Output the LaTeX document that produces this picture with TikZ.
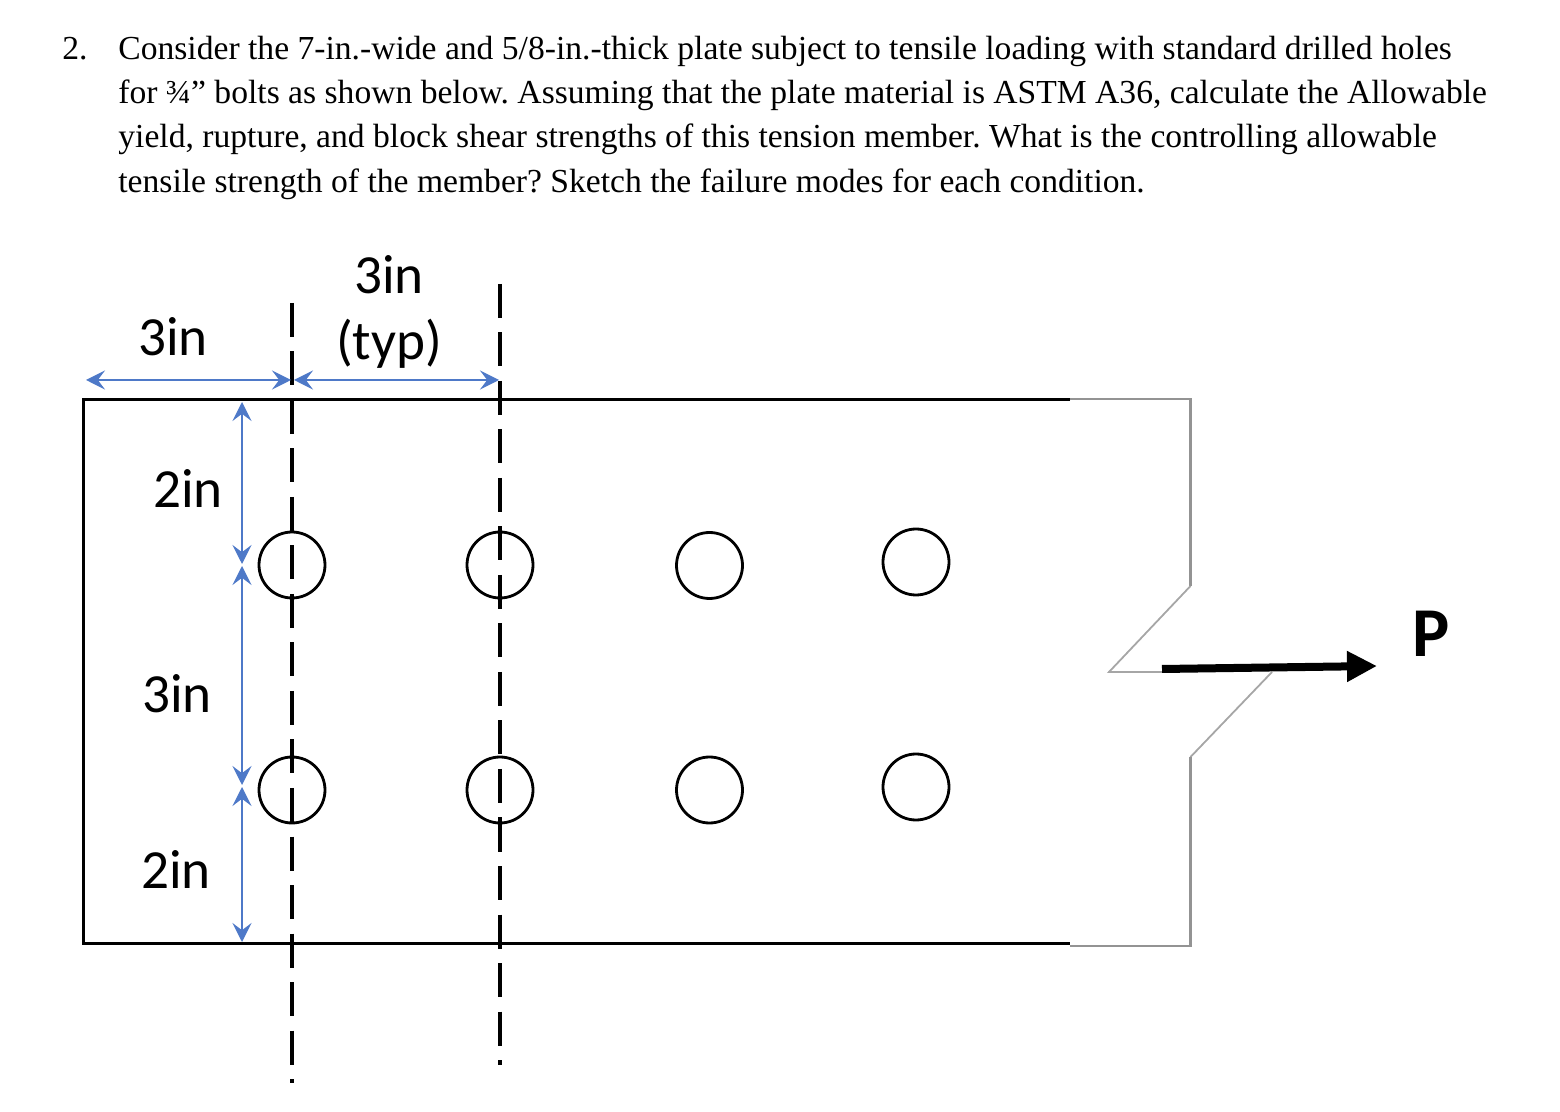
\documentclass[tikz,border=0pt]{standalone}
\usepackage{fontspec}
\setmainfont{Liberation Serif}
\newfontfamily\labelfont{Carlito}
\usepackage{xcolor}
\usetikzlibrary{arrows.meta}
\definecolor{dimblue}{HTML}{4E79C8}
\frenchspacing
\tikzset{
    probtext/.style={anchor=base west, inner sep=0pt, font=\fontsize{16.8}{20}\selectfont},
    dimtext/.style={inner sep=0pt, font=\labelfont\fontsize{27.6}{32}\selectfont},
    dimline/.style={dimblue, line width=0.7pt, {Stealth[length=9.5pt,width=9.5pt,inset=3.6pt]}-{Stealth[length=9.5pt,width=9.5pt,inset=3.6pt]}},
    hole/.style={circle, draw, line width=1.4pt, minimum size=33pt, inner sep=0pt},
    centerline/.style={line width=1.9pt, dash pattern=on 17pt off 7.25pt},
    plateedge/.style={line width=1.5pt},
    breakedge/.style={gray!85, line width=1.3pt},
    slantedge/.style={gray!70, line width=0.9pt}
}
\begin{document}
\begin{tikzpicture}[x=0.5pt,y=-0.5pt]
    \useasboundingbox (0,0) rectangle (1560,1112);
    % problem text
    \node[probtext] (num) at (62,59.5) {2.};
    \node[probtext] (line1) at (118,59.5) {Consider the 7-in.-wide and 5/8-in.-thick plate subject to tensile loading with standard drilled holes};
    \node[probtext] (line2) at (118,103.5) {for ¾” bolts as shown below. Assuming that the plate material is ASTM A36, calculate the Allowable};
    \node[probtext] (line3) at (118,147.5) {yield, rupture, and block shear strengths of this tension member. What is the controlling allowable};
    \node[probtext] (line4) at (118,192.5) {tensile strength of the member? Sketch the failure modes for each condition.};
    % plate
    \coordinate (tl) at (83,399.5);
    \coordinate (bl) at (83,943);
    \coordinate (tr) at (1070,399.5);
    \coordinate (br) at (1070,943);
    \draw[plateedge] (tr) -- (tl) -- (bl) -- (br);
    \coordinate (grs) at (1070,399);
    \coordinate (grt) at (1190.5,399);
    \coordinate (grb) at (1190.5,946);
    \coordinate (nA) at (1190.5,586);
    \coordinate (nB) at (1109,672);
    \coordinate (nC) at (1165,672);
    \coordinate (nD) at (1272,672);
    \coordinate (nE) at (1190.5,757);
    \coordinate (brg) at (1070,946);
    \draw[breakedge] (grs) -- (grt) -- (nA);
    \draw[slantedge] (nA) -- (nB) -- (nC);
    \draw[slantedge] (nD) -- (nE);
    \draw[breakedge] (nE) -- (grb) -- (brg);
    % holes
    \foreach \name/\px/\py in {a/292/565, b/500/565, c/709.5/565.5, d/916/562, e/292/790, f/500/790, g/709.5/790, h/916/787}
        \node[hole] (hole\name) at (\px,\py) {};
    % center lines
    \coordinate (cA) at (292,303);
    \coordinate (cB) at (292,1083);
    \coordinate (cC) at (500,284);
    \coordinate (cD) at (500,1065);
    \draw[centerline] (cA) -- (cB);
    \draw[centerline] (cC) -- (cD);
    % dimensions
    \coordinate (dA) at (86,380);
    \coordinate (dB) at (291,380);
    \coordinate (dC) at (294,380);
    \coordinate (dD) at (499,380);
    \coordinate (dE) at (242,402);
    \coordinate (dF) at (242,564);
    \coordinate (dG) at (242,566);
    \coordinate (dH) at (242,785);
    \coordinate (dI) at (242,787);
    \coordinate (dJ) at (242,942);
    \draw[dimline] (dA) -- (dB);
    \draw[dimline] (dC) -- (dD);
    \draw[dimline] (dE) -- (dF);
    \draw[dimline] (dG) -- (dH);
    \draw[dimline] (dI) -- (dJ);
    \node[dimtext] (w1) at (173,337) {3in};
    \node[dimtext] (w2) at (389,275) {3in};
    \node[dimtext] (w3) at (389,343.5) {(typ)};
    \node[dimtext] (h1) at (188,488.5) {2in};
    \node[dimtext] (h2) at (177,694) {3in};
    \node[dimtext] (h3) at (176,870) {2in};
    % load
    \coordinate (pA) at (1162,669);
    \coordinate (pB) at (1377,666);
    \draw[line width=4pt, -{Triangle[length=15pt,width=14.5pt]}] (pA) -- (pB);
    \node[dimtext, font=\labelfont\bfseries\fontsize{35}{40}\selectfont] (load) at (1431,634) {P};
\end{tikzpicture}
\end{document}
